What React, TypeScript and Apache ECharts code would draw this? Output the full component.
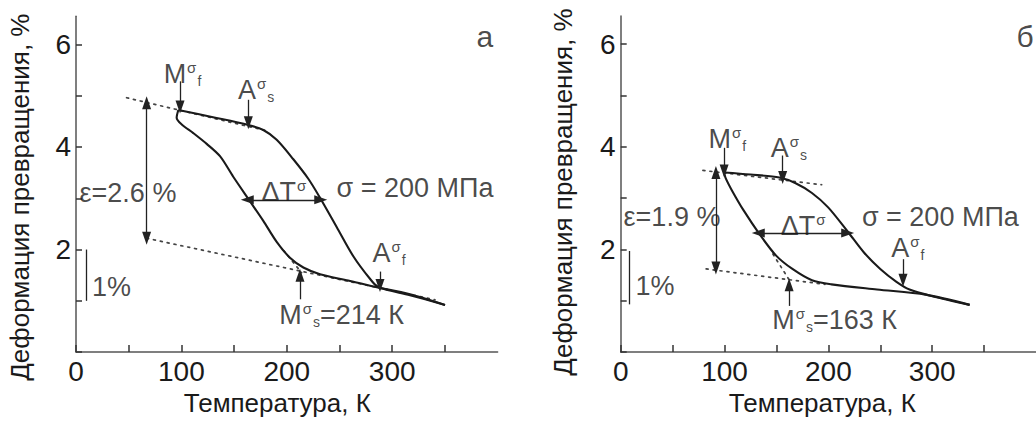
import React, { useEffect, useRef } from "react";
import * as echarts from "echarts";

// ---------- axes ----------
const xTicks = [0, 50, 100, 150, 200, 250, 300, 350];
const xLabels = [0, 100, 200, 300];
const yTicks = [0, 1, 2, 3, 4, 5, 6];
const yLabels = [2, 4, 6];

// ---------- panel а ----------
const heatingA: number[][] = [
  [97.1, 4.72], [130, 4.58], [163.5, 4.43], [177.7, 4.33], [190.4, 4.14], [206.2, 3.76],
  [220.4, 3.38], [231.5, 3.01], [247.3, 2.44], [263.1, 1.87], [278.9, 1.43], [286.8, 1.27],
  [316.9, 1.11], [350.1, 0.92],
];
const coolingA: number[][] = [
  [350.1, 0.92], [316.9, 1.13], [282, 1.28], [256.8, 1.4], [231.5, 1.52], [215.7, 1.65],
  [203, 1.84], [190.4, 2.15], [177.7, 2.56], [165.1, 2.94], [149.2, 3.42], [136.6, 3.82],
  [124, 4.06], [111.3, 4.27], [100.3, 4.44], [95.5, 4.57], [97.1, 4.72],
];
const dottedA: number[][][] = [
  [[48, 4.96], [180, 4.32]],
  [[67, 2.22], [340.6, 1.02]],
  [[197, 1.98], [214, 1.55]],
];
// arrows: [x1, y1, x2, y2, startHead, endHead]
const arrowsA: any[][] = [
  [67, 4.86, 67, 2.22, 1, 1],
  [162.5, 2.97, 232.2, 2.97, 1, 1],
  [98.7, 5.28, 98.7, 4.78, 0, 1],
  [163.5, 4.92, 163.5, 4.47, 0, 1],
  [288.4, 1.57, 288.4, 1.3, 0, 1],
  [212.5, 1.03, 212.5, 1.5, 0, 1],
  [9.5, 2.0, 9.5, 1.0, 0, 0],
];
const labelsA: any[][] = [
  [101, 5.42, "{b|M}{sup|σ}{sub|f}"],
  [170.8, 5.11, "{b|A}{sup|σ}{sub|s}"],
  [297, 1.93, "{b|A}{sup|σ}{sub|f}"],
  [252, 0.72, "{b|M}{sup|σ}{sub|s}{b|=214 К}"],
  [197.3, 3.12, "{b|ΔT}{sup|σ}"],
  [321.6, 3.2, "{b|σ = 200 МПа}"],
  [49.3, 3.1, "{b|ε=2.6 %}"],
  [33.7, 1.27, "{b|1%}"],
  [388, 6.15, "{big|а}"],
];

// ---------- panel б ----------
const heatingB: number[][] = [
  [99.6, 3.5], [125, 3.46], [152.8, 3.4], [168.5, 3.29], [184.2, 3.1], [199.8, 2.82],
  [218.6, 2.35], [234.3, 1.94], [250, 1.62], [265.6, 1.37], [278.2, 1.22], [300.1, 1.09],
  [336.1, 0.92],
];
const coolingB: number[][] = [
  [336.1, 0.92], [293.8, 1.12], [246.8, 1.22], [203, 1.32], [184.2, 1.4], [165.4, 1.62],
  [149.7, 1.88], [134, 2.29], [118.4, 2.76], [107.4, 3.14], [101.1, 3.39], [99.6, 3.5],
];
const dottedB: number[][][] = [
  [[79.2, 3.54], [193.6, 3.26]],
  [[82.3, 1.62], [196.7, 1.32]],
  [[146.6, 1.91], [162.2, 1.41]],
];
const arrowsB: any[][] = [
  [91.7, 3.5, 91.7, 1.64, 1, 1],
  [132.5, 2.32, 218.6, 2.32, 1, 1],
  [99.6, 3.98, 99.6, 3.53, 0, 1],
  [156, 3.83, 156, 3.4, 0, 1],
  [271.9, 1.81, 271.9, 1.4, 0, 1],
  [162.2, 0.9, 162.2, 1.31, 0, 1],
  [8.7, 1.97, 8.7, 0.93, 0, 0],
];
const labelsB: any[][] = [
  [102.7, 4.15, "{b|M}{sup|σ}{sub|f}"],
  [162, 3.98, "{b|A}{sup|σ}{sub|s}"],
  [276.6, 2.03, "{b|A}{sup|σ}{sub|f}"],
  [206, 0.62, "{b|M}{sup|σ}{sub|s}{b|=163 К}"],
  [175.6, 2.46, "{b|ΔT}{sup|σ}"],
  [307.9, 2.63, "{b|σ = 200 МПа}"],
  [49.4, 2.64, "{b|ε=1.9 %}"],
  [33, 1.28, "{b|1%}"],
  [389.5, 6.14, "{big|б}"],
];

const FONT = "'Liberation Sans', Arial, sans-serif";
const INK = "#1a1a1a";

const rich = {
  b: { fontSize: 27, lineHeight: 28, color: INK, fontFamily: FONT },
  sup: { fontSize: 15, lineHeight: 14, verticalAlign: "top", color: INK, fontFamily: FONT, padding: [0, 0, 0, 1] },
  sub: { fontSize: 14, lineHeight: 12, verticalAlign: "bottom", color: INK, fontFamily: FONT, padding: [0, 0, 0, 1] },
  big: { fontSize: 30, lineHeight: 32, color: INK, fontFamily: FONT },
};

function axesFor(idx: number, xNamePad: number, yNameGap: number, yNamePad: number) {
  const xAxis = {
    gridIndex: idx,
    type: "value",
    min: 0,
    max: 400,
    axisLine: { show: true, lineStyle: { color: "#555", width: 1.5 } },
    axisTick: { show: true, inside: true, length: 7, customValues: xTicks, lineStyle: { color: "#333", width: 1.5 } },
    axisLabel: { customValues: xLabels, fontSize: 28, color: INK, fontFamily: FONT, margin: 5 },
    splitLine: { show: false },
    name: "Температура, К",
    nameLocation: "middle",
    nameGap: 30,
    nameTextStyle: { fontSize: 26, color: INK, fontFamily: FONT, padding: [0, xNamePad, 0, 0] },
  };
  const yAxis = {
    gridIndex: idx,
    type: "value",
    min: 0,
    max: 6.55,
    axisLine: { show: true, lineStyle: { color: "#555", width: 1.5 } },
    axisTick: { show: true, inside: true, length: 6, customValues: yTicks, lineStyle: { color: "#333", width: 1.5 } },
    axisLabel: { customValues: yLabels, fontSize: 28, color: INK, fontFamily: FONT, margin: 5 },
    splitLine: { show: false },
    name: "Деформация превращения, %",
    nameLocation: "middle",
    nameGap: yNameGap,
    nameTextStyle: { fontSize: 26, color: INK, fontFamily: FONT, padding: [0, yNamePad, 0, 0] },
  };
  return { xAxis, yAxis };
}

function seriesFor(idx: number, heating: number[][], cooling: number[][], dotted: number[][][], arrows: any[][], labels: any[][]) {
  const out: any[] = [];
  const loopStyle = { color: INK, width: 2.1 };
  out.push({
    type: "line", xAxisIndex: idx, yAxisIndex: idx, data: heating, smooth: 0.3,
    showSymbol: false, symbol: "none", lineStyle: loopStyle, silent: true, z: 3,
  });
  out.push({
    type: "line", xAxisIndex: idx, yAxisIndex: idx, data: cooling, smooth: 0.3,
    showSymbol: false, symbol: "none", lineStyle: loopStyle, silent: true, z: 3,
  });
  dotted.forEach((seg) => {
    out.push({
      type: "line", xAxisIndex: idx, yAxisIndex: idx, data: seg,
      showSymbol: false, symbol: "none", silent: true, z: 2,
      lineStyle: { color: "#444", width: 1.7, type: [2, 5], cap: "round" },
    });
  });
  out.push({
    type: "scatter", xAxisIndex: idx, yAxisIndex: idx, symbolSize: 0, silent: true, z: 5,
    data: labels.map((l) => ({
      value: [l[0], l[1]],
      label: { show: true, position: "inside", formatter: l[2], rich },
    })),
    label: { show: true, position: "inside", color: INK, fontFamily: FONT },
    markLine: {
      silent: true,
      animation: false,
      symbolSize: [9, 13],
      label: { show: false },
      lineStyle: { color: "#222", width: 1.3, type: "solid" },
      emphasis: { disabled: true },
      data: arrows.map((a) => [
        { coord: [a[0], a[1]], symbol: a[4] ? "triangle" : "none" },
        { coord: [a[2], a[3]], symbol: a[5] ? "triangle" : "none" },
      ]),
    },
  });
  return out;
}

export default function App() {
  const ref = useRef<HTMLDivElement>(null);
  useEffect(() => {
    if (!ref.current) return;
    const chart = echarts.init(ref.current, undefined, { renderer: "svg" });
    const a = axesFor(0, 19, 43, 26);
    const b = axesFor(1, 12, 45, 16);
    chart.setOption({
      animation: false,
      backgroundColor: "#ffffff",
      textStyle: { fontFamily: FONT },
      grid: [
        { left: 76, top: 16.2, width: 421.6, height: 345.8, containLabel: false },
        { left: 620.7, top: 15.9, width: 425.6, height: 346.8, containLabel: false },
      ],
      xAxis: [a.xAxis, b.xAxis],
      yAxis: [a.yAxis, b.yAxis],
      series: [
        ...seriesFor(0, heatingA, coolingA, dottedA, arrowsA, labelsA),
        ...seriesFor(1, heatingB, coolingB, dottedB, arrowsB, labelsB),
      ],
    });
    return () => chart.dispose();
  }, []);
  return (
    <div
      ref={ref}
      style={{ position: "absolute", left: 0, top: 0, width: 1036, height: 421, background: "#fff" }}
    />
  );
}
